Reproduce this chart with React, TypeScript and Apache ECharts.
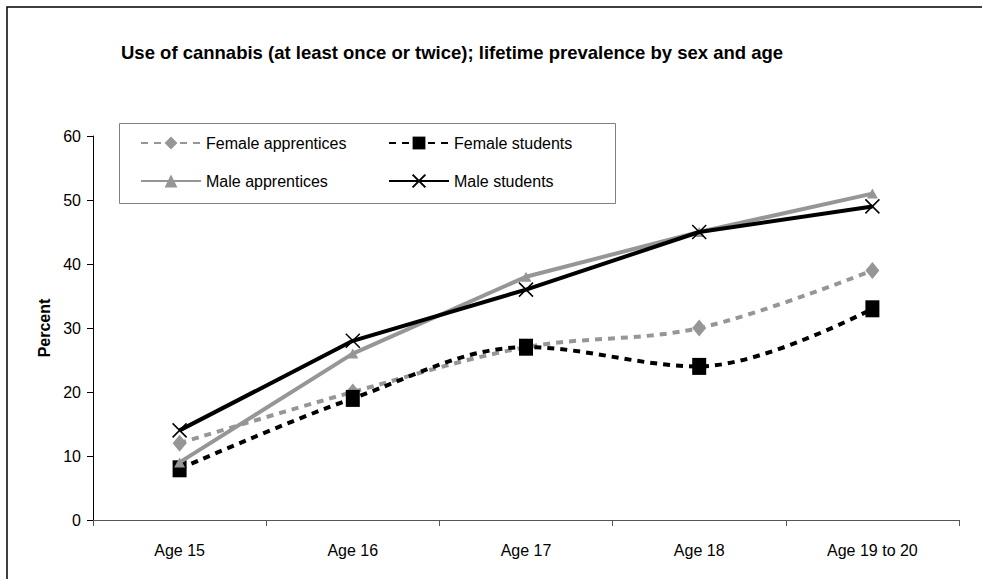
import React, { useEffect, useRef } from "react";
import * as echarts from "echarts";

// Lifetime prevalence of cannabis use, by sex/education group and age
const ageGroups = ["Age 15", "Age 16", "Age 17", "Age 18", "Age 19 to 20"];
const femaleApprentices = [12, 20, 27, 30, 39];
const femaleStudents = [8, 19, 27, 24, 33];
const maleApprentices = [9, 26, 38, 45, 51];
const maleStudents = [14, 28, 36, 45, 49];
const yTicks = { min: 0, max: 60, interval: 10 };

const titleText =
  "Use of cannabis (at least once or twice); lifetime prevalence by sex and age";

const FONT = "'Liberation Sans', Arial, sans-serif";
const GRAY = "#969696";
const BLACK = "#000000";
const CROSS = "path://M0,0L10,10M10,0L0,10";

export default function App() {
  const ref = useRef<HTMLDivElement>(null);

  useEffect(() => {
    if (!ref.current) return;
    const chart = echarts.init(ref.current, null, { renderer: "svg" });

    const legendAt = (name: string, left: number, top: number) => ({
      data: [name],
      left,
      top,
      orient: "horizontal",
      padding: 0,
      itemWidth: 60,
      itemHeight: 16,
      itemGap: 0,
      selectedMode: false,
      textStyle: { fontFamily: FONT, fontSize: 16, color: BLACK },
    });

    chart.setOption({
      animation: false,
      backgroundColor: "#ffffff",
      textStyle: { fontFamily: FONT },
      title: {
        text: titleText,
        left: 116,
        top: 38,
        textStyle: {
          fontFamily: FONT,
          fontSize: 18.5,
          fontWeight: "bold",
          color: BLACK,
        },
      },
      legend: [
        legendAt("Female apprentices", 140, 135),
        legendAt("Female students", 388, 135),
        legendAt("Male apprentices", 140, 173),
        legendAt("Male students", 388, 173),
      ],
      graphic: [
        {
          type: "rect",
          shape: { x: 7, y: 7, width: 1100, height: 700 },
          style: { fill: "none", stroke: "#000", lineWidth: 1.5 },
          silent: true,
        },
        {
          type: "rect",
          shape: { x: 119.5, y: 123.5, width: 496, height: 80 },
          style: { fill: "none", stroke: "#808080", lineWidth: 1 },
          silent: true,
          z: -1,
        },
      ],
      grid: { left: 93, right: 23, top: 136, bottom: 59, containLabel: false },
      xAxis: {
        type: "category",
        data: ageGroups,
        boundaryGap: true,
        axisLine: { lineStyle: { color: "#555", width: 1 } },
        axisTick: {
          show: true,
          inside: false,
          length: 6,
          interval: 0,
          lineStyle: { color: "#555" },
        },
        axisLabel: {
          fontFamily: FONT,
          fontSize: 16,
          color: BLACK,
          margin: 22,
          interval: 0,
        },
        splitLine: { show: false },
      },
      yAxis: {
        type: "value",
        min: yTicks.min,
        max: yTicks.max,
        interval: yTicks.interval,
        name: "Percent",
        nameLocation: "middle",
        nameGap: 40,
        nameRotate: 90,
        nameTextStyle: {
          fontFamily: FONT,
          fontSize: 16,
          fontWeight: "bold",
          color: BLACK,
        },
        axisLine: { show: true, lineStyle: { color: BLACK, width: 1 } },
        axisTick: { show: true, inside: false, length: 6, lineStyle: { color: BLACK } },
        axisLabel: { fontFamily: FONT, fontSize: 16, color: BLACK, margin: 12 },
        splitLine: { show: false },
      },
      series: [
        {
          name: "Female apprentices",
          type: "line",
          data: femaleApprentices,
          smooth: 0.35,
          symbol: "diamond",
          symbolSize: [14, 17],
          showAllSymbol: true,
          lineStyle: { color: GRAY, width: 4, type: [7, 6], cap: "butt" },
          itemStyle: { color: GRAY, borderWidth: 0 },
          z: 2,
        },
        {
          name: "Female students",
          type: "line",
          data: femaleStudents,
          smooth: 0.35,
          symbol: "rect",
          symbolSize: [14, 17],
          showAllSymbol: true,
          lineStyle: { color: BLACK, width: 4, type: [7, 6], cap: "butt" },
          itemStyle: { color: BLACK, borderWidth: 0 },
          z: 3,
        },
        {
          name: "Male apprentices",
          type: "line",
          data: maleApprentices,
          symbol: "triangle",
          symbolSize: [11, 10],
          showAllSymbol: true,
          lineStyle: { color: GRAY, width: 4 },
          itemStyle: { color: GRAY, borderWidth: 0 },
          z: 4,
        },
        {
          name: "Male students",
          type: "line",
          data: maleStudents,
          symbol: CROSS,
          symbolSize: 14,
          showAllSymbol: true,
          lineStyle: { color: BLACK, width: 4 },
          itemStyle: { color: BLACK, borderColor: BLACK, borderWidth: 1.5 },
          z: 5,
        },
      ],
    });

    return () => chart.dispose();
  }, []);

  return (
    <div
      ref={ref}
      style={{
        position: "fixed",
        left: 0,
        top: 0,
        width: 982,
        height: 579,
        background: "#fff",
      }}
    />
  );
}
